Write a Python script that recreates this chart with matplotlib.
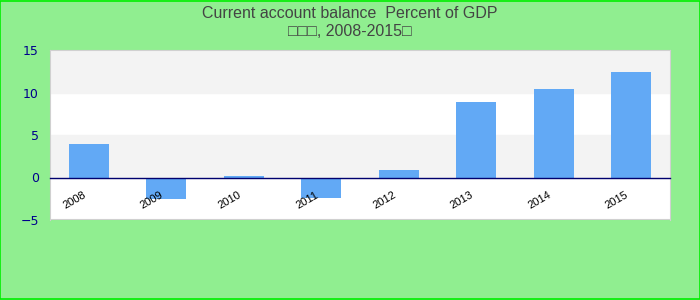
import matplotlib.pyplot as plt
from matplotlib.patches import Rectangle
from matplotlib.transforms import ScaledTranslation

# ----------------------------------------------------------
# Data
# ----------------------------------------------------------
years = ["2008", "2009", "2010", "2011", "2012", "2013", "2014", "2015"]
balance = [3.9, -2.5, 0.2, -2.4, 0.9, 8.9, 10.4, 12.4]
y_ticks = [-5, 0, 5, 10, 15]

title_line1 = "Current account balance  Percent of GDP"
title_line2 = "\u25a1\u25a1\u25a1, 2008-2015\u25a1"

# ----------------------------------------------------------
# Figure
# ----------------------------------------------------------
fig = plt.figure(figsize=(7, 3), dpi=100, facecolor="#90ee90")
fig.patches.append(Rectangle((0.0007, 0.0017), 0.9986, 0.9966, transform=fig.transFigure,
                             fill=False, edgecolor="#00ee00", linewidth=1.2))

ax = fig.add_axes([50 / 700, 80 / 300, 620 / 700, 170 / 300])
ax.set_facecolor("white")
ax.set_axisbelow(False)

# alternating bands
for i, (lo, hi) in enumerate(zip(y_ticks[:-1], y_ticks[1:])):
    if i % 2 == 1:
        ax.axhspan(lo, hi, color="#f3f3f3", zorder=0)

x = range(len(years))
ax.bar(x, balance, width=0.52, color="#62a9f5", zorder=2)

ax.set_xlim(-0.5, len(years) - 0.5)
ax.set_ylim(-5, 15)
ax.set_yticks(y_ticks)
ax.tick_params(axis="y", length=0, pad=8, labelsize=9, labelcolor="#00008b")

ax.spines["bottom"].set_position(("data", 0))
ax.spines["bottom"].set_color("#00006e")
ax.spines["bottom"].set_linewidth(1.0)
for s in ["left", "right", "top"]:
    ax.spines[s].set_color("#d0d0d0")

ax.set_xticks(list(x))
ax.set_xticklabels(years, rotation=30, ha="right", rotation_mode="anchor",
                   fontsize=8, family="Liberation Sans")
ax.tick_params(axis="x", length=0, pad=9)
shift = ScaledTranslation(-6 / 100, 0, fig.dpi_scale_trans)
for lbl in ax.get_xticklabels():
    lbl.set_transform(lbl.get_transform() + shift)

# border at the bottom of the plot area
ax.axhline(-5, color="#d0d0d0", linewidth=1.5, zorder=4)

fig.text(0.5, 1 - 13 / 300, title_line1, ha="center", va="center",
         fontsize=11.5, color="#444444", family=["Liberation Sans", "DejaVu Sans"])
fig.text(0.5, 1 - 32 / 300, title_line2, ha="center", va="center",
         fontsize=11.5, color="#444444", family=["Liberation Sans", "DejaVu Sans"])

plt.savefig("out.png", dpi=100, facecolor=fig.get_facecolor())
plt.close()
